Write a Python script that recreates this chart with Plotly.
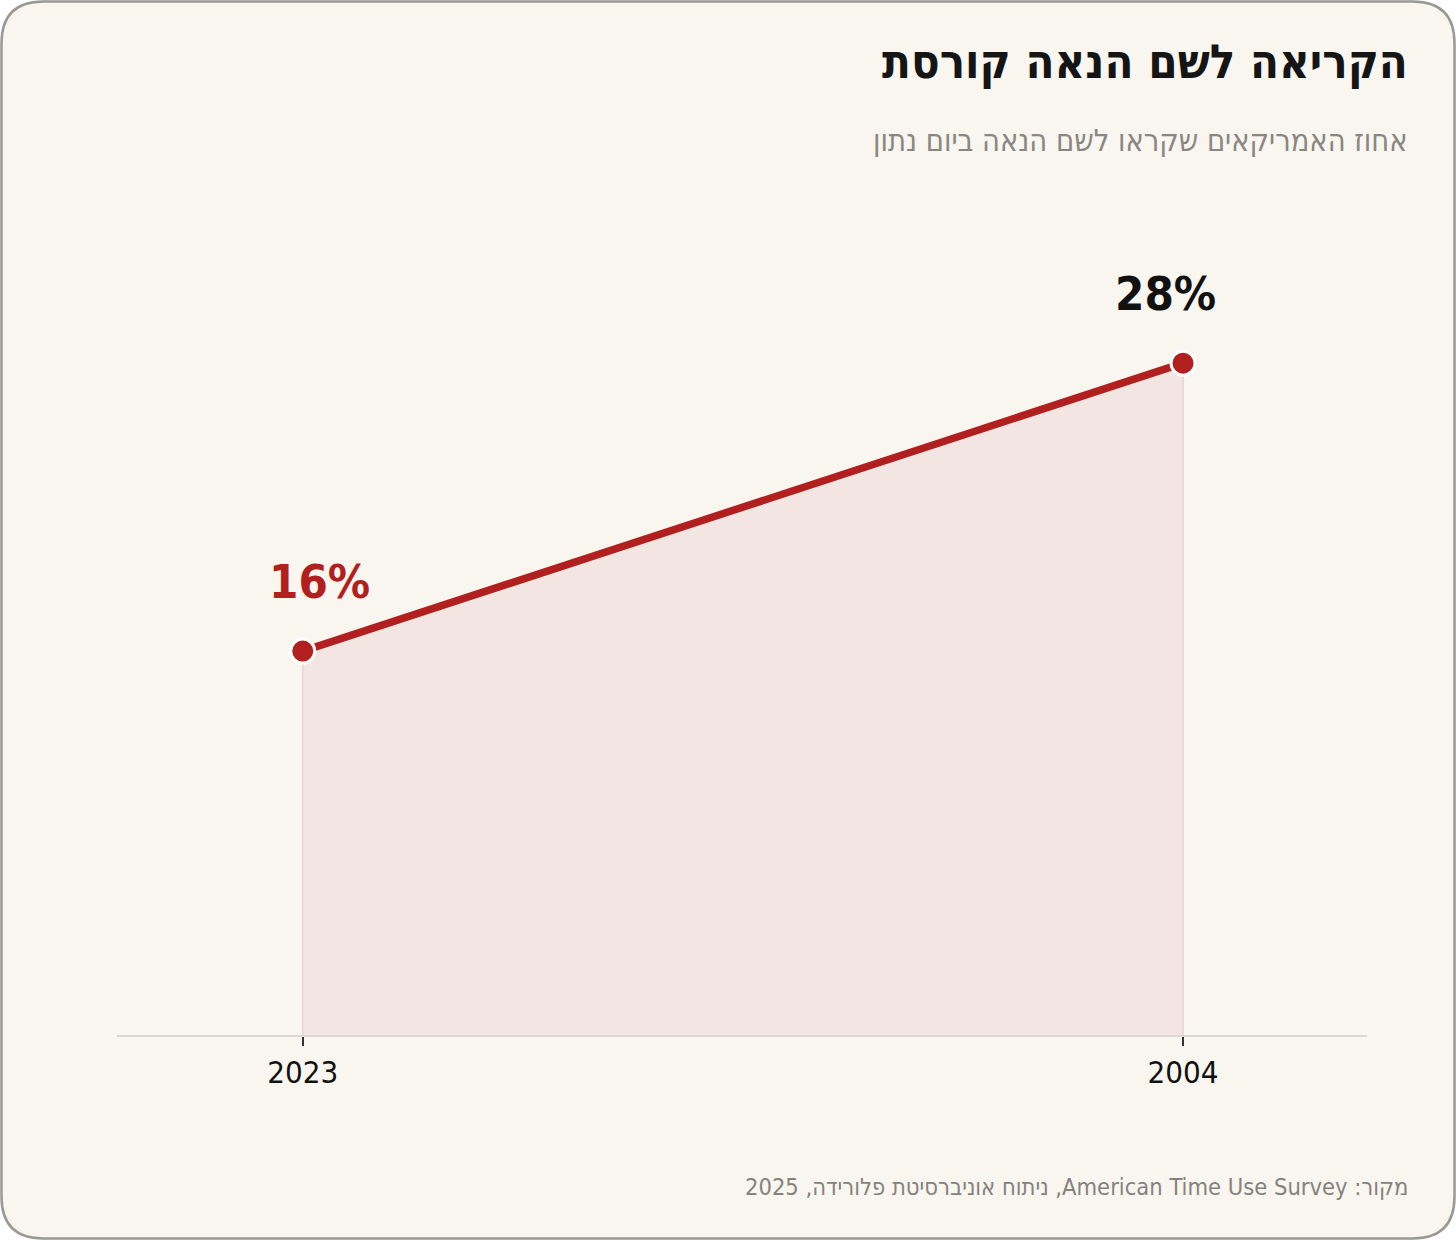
import plotly.graph_objects as go

# data (x axis runs right-to-left: 2023 first)
years = ['2023', '2004']
share = [16, 28]
label_colors = ['#b21f1f', '#111111']

title = 'הקריאה לשם הנאה קורסת'
subtitle = 'אחוז האמריקאים שקראו לשם הנאה ביום נתון'
source = '\u202bמקור: American Time Use Survey, ניתוח אוניברסיטת פלורידה, 2025\u202c'

W, H = 1456, 1240
L, R, T, B = 117, 89, 200, 205
RED = '#b21f1f'
COND = 'DejaVu Sans Condensed, Roboto, sans-serif'


def px(x, y):
    # pixel -> paper coordinates
    return (x - L) / (W - L - R), (H - B - y) / (H - T - B)


def card_path(x0, y0, x1, y1, r):
    pts = [
        ('M', [(x0 + r, y0)]), ('L', [(x1 - r, y0)]), ('Q', [(x1, y0), (x1, y0 + r)]),
        ('L', [(x1, y1 - r)]), ('Q', [(x1, y1), (x1 - r, y1)]),
        ('L', [(x0 + r, y1)]), ('Q', [(x0, y1), (x0, y1 - r)]),
        ('L', [(x0, y0 + r)]), ('Q', [(x0, y0), (x0 + r, y0)]),
    ]
    s = ''
    for cmd, coords in pts:
        s += cmd + ' '.join('%.5f,%.5f' % px(a, b) for a, b in coords) + ' '
    return s + 'Z'


fig = go.Figure()

# shaded area under the line
fig.add_trace(go.Scatter(x=years, y=share, mode='lines', fill='tozeroy',
                         fillcolor='#f3e6e2', line=dict(width=0), hoverinfo='skip'))

# faint drop lines at each point
for yr, v in zip(years, share):
    fig.add_trace(go.Scatter(x=[yr, yr], y=[0, v], mode='lines',
                             line=dict(color='#ead9d5', width=2), hoverinfo='skip'))

fig.add_trace(go.Scatter(x=years, y=share, mode='lines+markers',
                         line=dict(color=RED, width=7.5),
                         marker=dict(size=24, color=RED, line=dict(color='white', width=3))))

# value labels (category index used so "2023" is not read as a number)
for i, (v, c, dx) in enumerate(zip(share, label_colors, [17, -18])):
    fig.add_annotation(x=i, y=v, text='<b>%d%%</b>' % v, showarrow=False,
                       xshift=dx, yshift=40, yanchor='bottom',
                       font=dict(family=COND, size=47, color=c))

# title block and source
tx, ty = px(1410, 61)
fig.add_annotation(x=tx, y=ty, xref='paper', yref='paper', text='<b>' + title + '</b>',
                   showarrow=False, xanchor='right', yanchor='middle',
                   font=dict(family=COND, size=47, color='#151515'))
sx, sy = px(1410, 140)
fig.add_annotation(x=sx, y=sy, xref='paper', yref='paper', text=subtitle,
                   showarrow=False, xanchor='right', yanchor='middle',
                   font=dict(family=COND, size=30.5, color='#8a8782'))
fx, fy = px(1410, 1187)
fig.add_annotation(x=fx, y=fy, xref='paper', yref='paper', text=source,
                   showarrow=False, xanchor='right', yanchor='middle',
                   font=dict(family=COND, size=23.5, color='#85827d'))

fig.add_shape(type='path', xref='paper', yref='paper', layer='below',
              path=card_path(1.5, 1.5, 1454.5, 1238.5, 42),
              fillcolor='#f9f6f0', line=dict(color='#9a9893', width=2.5))

fig.update_xaxes(type='category', range=[-0.211, 1.209], showgrid=False, zeroline=False,
                 showline=True, linecolor='#dcd7d0', linewidth=2,
                 ticks='outside', ticklen=9, tickwidth=2, tickcolor='#333',
                 tickfont=dict(family=COND, size=31, color='#111'))
fig.update_yaxes(range=[0, 34.8], visible=False)

fig.update_layout(width=W, height=H, margin=dict(l=L, r=R, t=T, b=B),
                  paper_bgcolor='white', plot_bgcolor='rgba(0,0,0,0)',
                  showlegend=False)

# drop the default page margin so the figure fills the window
fig.write_html('out.html', config={'displayModeBar': False},
               post_script="document.body.style.margin='0';")
